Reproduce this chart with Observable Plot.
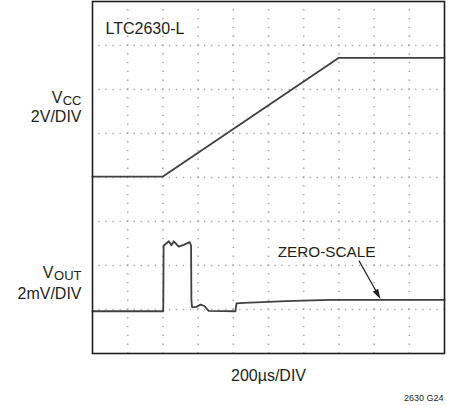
<!DOCTYPE html>
<html>
<head>
<meta charset="utf-8">
<script src="https://cdn.jsdelivr.net/npm/d3@7"></script>
<script src="https://cdn.jsdelivr.net/npm/@observablehq/plot@0.6"></script>
<style>
  html, body { margin: 0; padding: 0; background: #fff; }
</style>
</head>
<body>
<div id="chart"></div>
<script>
// Oscilloscope graticule (divisions)
const xDivTicks = [1, 2, 3, 4, 5, 6, 7, 8, 9];
const yDivTicks = [1, 2, 3, 4, 5, 6, 7];

// VCC trace (time in div, level in div)
const vccTime  = [0, 2.0, 7.0, 10];
const vccLevel = [4.02, 4.02, 6.72, 6.72];

// VOUT trace (time in div, level in div)
const voutTime  = [0, 2.01, 2.02, 2.17, 2.24, 2.31, 2.45, 2.59, 2.76, 2.80, 2.81, 2.83, 2.95, 3.07, 3.18, 3.30, 4.06, 4.09, 4.30, 5.50, 6.76, 10];
const voutLevel = [0.96, 0.96, 2.45, 2.55, 2.46, 2.55, 2.43, 2.47, 2.53, 2.45, 1.20, 1.05, 1.06, 1.11, 1.08, 0.97, 0.96, 1.14, 1.15, 1.19, 1.22, 1.22];

// Annotation
const zeroScaleLabel = "ZERO-SCALE";
const arrowFrom = [7.57, 2.11];
const arrowHead = [8.11, 1.34];

const vcc  = vccTime.map((t, i) => ({t, v: vccLevel[i]}));
const vout = voutTime.map((t, i) => ({t, v: voutLevel[i]}));

const ink = "#231f20";
const trace = "#404040";
const font = "'Liberation Sans', Arial, sans-serif";

// narrow filled arrow head (tip points up before rotation)
const headSymbol = {
  draw(ctx) {
    ctx.moveTo(0, -5);
    ctx.lineTo(3, 5);
    ctx.lineTo(-3, 5);
    ctx.closePath();
  }
};

const chart = Plot.plot({
  width: 453,
  height: 406,
  marginLeft: 92,
  marginRight: 9,
  marginTop: 1,
  marginBottom: 53,
  x: {domain: [0, 10], axis: null},
  y: {domain: [0, 8], axis: null},
  style: {fontFamily: font, background: "#fff", color: ink, overflow: "visible"},
  marks: [
    Plot.gridX(xDivTicks, {stroke: "#ababab", strokeOpacity: 1, strokeWidth: 1.6, strokeDasharray: "1.4,7.4", strokeDashoffset: 0.7}),
    Plot.gridY(yDivTicks, {stroke: "#ababab", strokeOpacity: 1, strokeWidth: 1.6, strokeDasharray: "1.4,5.64", strokeDashoffset: 0.7}),
    Plot.line(vcc, {x: "t", y: "v", stroke: trace, strokeWidth: 1.8}),
    Plot.line(vout, {x: "t", y: "v", stroke: trace, strokeWidth: 1.8}),
    Plot.link([{x1: arrowFrom[0], y1: arrowFrom[1], x2: arrowHead[0], y2: arrowHead[1]}],
      {x1: "x1", y1: "y1", x2: "x2", y2: "y2", stroke: ink, strokeWidth: 1.2}),
    Plot.dot([{x: arrowHead[0], y: arrowHead[1]}], {x: "x", y: "y", symbol: headSymbol, r: 5, fill: ink, stroke: "none", rotate: 150.5}),
    Plot.frame({stroke: ink, strokeWidth: 1.6}),
    // in-plot labels
    Plot.text(["LTC2630-L"], {x: 0, y: 7.27, dx: 13, text: d => d, textAnchor: "start", lineAnchor: "bottom", fontSize: 16, fill: ink}),
    Plot.text([zeroScaleLabel], {x: 5.26, y: 2.2, text: d => d, textAnchor: "start", lineAnchor: "bottom", fontSize: 15.3, fill: ink}),
    // left channel labels
    Plot.text(["V"],  {x: 0, y: 5.69, dx: -30, text: d => d, textAnchor: "end", lineAnchor: "bottom", fontSize: 16, fill: ink}),
    Plot.text(["CC"], {x: 0, y: 5.69, dx: -11, dy: 2, text: d => d, textAnchor: "end", lineAnchor: "bottom", fontSize: 13, fill: ink}),
    Plot.text(["2V/DIV"], {x: 0, y: 5.27, dx: -11, text: d => d, textAnchor: "end", lineAnchor: "bottom", fontSize: 16, fill: ink}),
    Plot.text(["V"],   {x: 0, y: 1.72, dx: -39, text: d => d, textAnchor: "end", lineAnchor: "bottom", fontSize: 16, fill: ink}),
    Plot.text(["OUT"], {x: 0, y: 1.72, dx: -11, dy: 2, text: d => d, textAnchor: "end", lineAnchor: "bottom", fontSize: 13, fill: ink}),
    Plot.text(["2mV/DIV"], {x: 0, y: 1.23, dx: -11, text: d => d, textAnchor: "end", lineAnchor: "bottom", fontSize: 16, fill: ink}),
    // bottom labels
    Plot.text(["200µs/DIV"], {x: 5, y: 0, dy: 27, text: d => d, textAnchor: "middle", lineAnchor: "bottom", fontSize: 16, fill: ink}),
    Plot.text(["2630 G24"], {x: 10, y: 0, dy: 47, dx: -1, text: d => d, textAnchor: "end", lineAnchor: "bottom", fontSize: 9, fill: ink})
  ]
});

document.getElementById("chart").appendChild(chart);
</script>
</body>
</html>
